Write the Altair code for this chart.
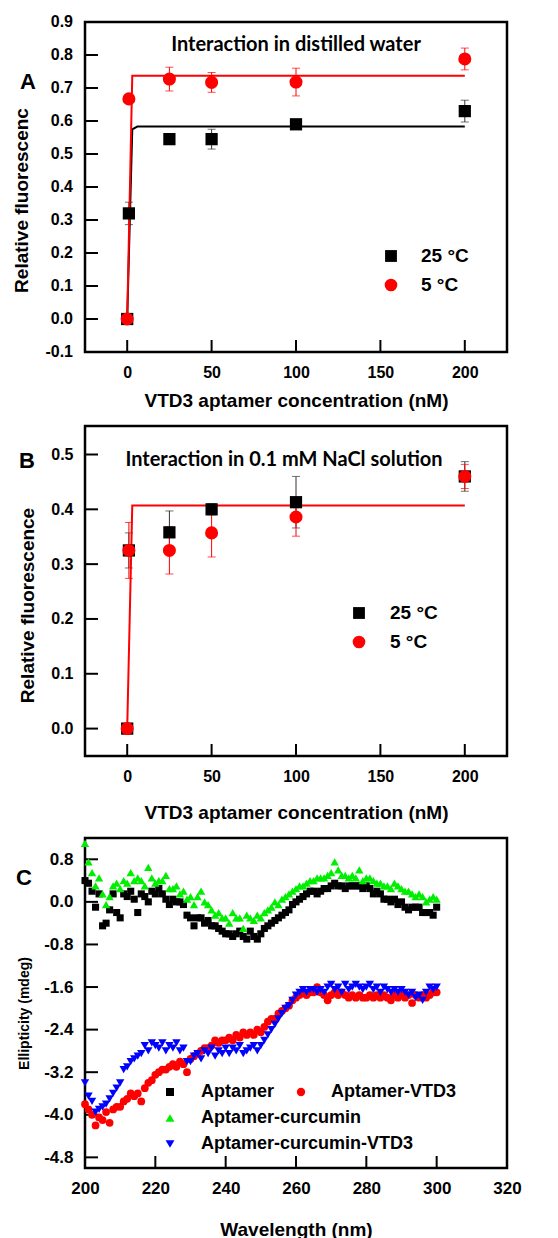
import altair as alt
import pandas as pd

# ---------------- Panel A / B data ----------------
conc = [0, 1, 25, 50, 100, 200]
a25 = [0.0, 0.32, 0.545, 0.545, 0.59, 0.63]
a25_err = [0.0, 0.034, 0.01, 0.03, 0.01, 0.033]
a5 = [0.0, 0.667, 0.727, 0.717, 0.718, 0.788]
a5_err = [0.0, 0.0, 0.036, 0.03, 0.042, 0.033]
fitA25_x = [0, 3, 6, 200]
fitA25_y = [0.0, 0.575, 0.583, 0.583]
fitA5_x = [0, 3, 200]
fitA5_y = [0.0, 0.737, 0.737]

b25 = [0.0, 0.325, 0.358, 0.40, 0.413, 0.46]
b25_err = [0.0, 0.032, 0.039, 0.01, 0.047, 0.027]
b5 = [0.0, 0.325, 0.325, 0.357, 0.386, 0.46]
b5_err = [0.0, 0.051, 0.043, 0.044, 0.035, 0.022]
fitB_x = [0, 3, 200]
fitB_y = [0.0, 0.407, 0.407]

xticks_AB = [0, 50, 100, 150, 200]
yticks_A = [-0.1, 0.0, 0.1, 0.2, 0.3, 0.4, 0.5, 0.6, 0.7, 0.8, 0.9]
ylabels_A = ["-0.1", "0.0", "0.1", "0.2", "0.3", "0.4", "0.5", "0.6", "0.7", "0.8", "0.9"]
yticks_B = [0.0, 0.1, 0.2, 0.3, 0.4, 0.5]
legend_AB = ["25 °C", "5 °C"]

# ---------------- Panel C data ----------------
wavelength = list(range(200, 301))
aptamer = [
    0.4, 0.35, 0.2, -0.1, 0.15, -0.45, -0.4, -0.15, 0.15, -0.2,
    -0.3, 0.15, 0.1, 0.2, 0.05, -0.2, 0.15, 0.1, 0.0, 0.2,
    0.15, 0.25, 0.15, 0.05, -0.05, 0.05, 0.0, 0.0, -0.05, -0.25,
    -0.3, -0.45, -0.3, -0.3, -0.4, -0.35, -0.45, -0.45, -0.5, -0.55,
    -0.6, -0.6, -0.65, -0.6, -0.55, -0.65, -0.7, -0.55, -0.65, -0.7,
    -0.6, -0.5, -0.45, -0.4, -0.35, -0.3, -0.25, -0.2, -0.15, -0.05,
    0.0, 0.05, 0.1, 0.15, 0.2, 0.2, 0.15, 0.2, 0.25, 0.25,
    0.3, 0.35, 0.3, 0.3, 0.25, 0.3, 0.3, 0.3, 0.3, 0.25,
    0.3, 0.25, 0.15, 0.2, 0.15, 0.05, 0.05, 0.0, 0.05, -0.05,
    0.0, -0.1, -0.15, -0.1, -0.1, -0.1, -0.2, -0.2, -0.2, -0.25, -0.1,
]
aptamer_vtd3 = [
    -3.8, -3.9, -4.0, -4.2, -4.05, -4.1, -3.95, -4.15, -3.9, -3.85,
    -3.85, -3.75, -3.7, -3.6, -3.65, -3.6, -3.75, -3.5, -3.4, -3.35,
    -3.25, -3.2, -3.15, -3.15, -3.1, -3.05, -3.1, -3.0, -3.05, -3.2,
    -2.95, -2.9, -2.85, -2.8, -2.75, -2.75, -2.7, -2.6, -2.65, -2.6,
    -2.6, -2.55, -2.6, -2.5, -2.55, -2.45, -2.5, -2.45, -2.5, -2.4,
    -2.45, -2.35, -2.25, -2.2, -2.2, -2.1, -2.05, -2.0, -1.95, -1.85,
    -1.8, -1.75, -1.7, -1.75, -1.7, -1.7, -1.6, -1.7, -1.75, -1.85,
    -1.75, -1.7, -1.75, -1.7, -1.75, -1.8, -1.75, -1.8, -1.75, -1.8,
    -1.8, -1.75, -1.8, -1.75, -1.8, -1.75, -1.8, -1.85, -1.75, -1.8,
    -1.75, -1.8, -1.75, -1.9, -1.75, -1.8, -1.75, -1.8, -1.75, -1.7, -1.7,
]
aptamer_curcumin = [
    1.1, 0.75, 0.55, 0.3, 0.45, 0.15, -0.05, 0.1, 0.3, 0.35,
    0.25, 0.4, 0.35, 0.55, 0.4, 0.45, 0.4, 0.3, 0.65, 0.45,
    0.35, 0.4, 0.4, 0.5, 0.25, 0.25, 0.3, 0.15, 0.2, 0.05,
    0.1, -0.05, 0.1, 0.2, 0.0, -0.05, -0.15, -0.25, -0.2, -0.3,
    -0.3, -0.4, -0.2, -0.3, -0.3, -0.5, -0.25, -0.3, -0.35, -0.25,
    -0.3, -0.2, -0.15, -0.1, 0.0, -0.05, 0.05, 0.1, 0.15, 0.2,
    0.25, 0.3, 0.3, 0.35, 0.4, 0.4, 0.45, 0.45, 0.45, 0.5,
    0.55, 0.75, 0.6, 0.5, 0.5, 0.45, 0.5, 0.45, 0.6, 0.4,
    0.45, 0.45, 0.4, 0.35, 0.35, 0.3, 0.3, 0.25, 0.35, 0.3,
    0.25, 0.2, 0.2, 0.15, 0.1, 0.15, 0.1, 0.0, 0.05, 0.1, 0.05,
]
aptamer_curcumin_vtd3 = [
    -3.4, -3.65, -3.75, -3.95, -3.9, -3.85, -3.8, -3.7, -3.6, -3.5,
    -3.4, -3.15, -3.1, -3.0, -2.95, -2.9, -2.85, -2.7, -2.8, -2.65,
    -2.7, -2.75, -2.65, -2.8, -2.7, -2.75, -2.65, -2.8, -2.75, -3.0,
    -3.0, -2.9, -2.85, -2.95, -2.8, -2.85, -2.75, -2.9, -2.8, -2.85,
    -2.75, -2.85, -2.75, -2.8, -2.7, -2.85, -2.8, -2.75, -2.7, -2.8,
    -2.7, -2.6, -2.5, -2.4, -2.3, -2.2, -2.1, -2.0, -1.95, -1.85,
    -1.75, -1.7, -1.65, -1.7, -1.65, -1.65, -1.7, -1.65, -1.7, -1.6,
    -1.55, -1.65, -1.6, -1.7, -1.55, -1.65, -1.6, -1.55, -1.6, -1.65,
    -1.6, -1.55, -1.65, -1.6, -1.7, -1.6, -1.65, -1.7, -1.65, -1.7,
    -1.65, -1.7, -1.75, -1.7, -1.8, -1.75, -1.85, -1.7, -1.6, -1.65, -1.6,
]
series_C = ["Aptamer", "Aptamer-VTD3", "Aptamer-curcumin", "Aptamer-curcumin-VTD3"]
xticks_C = [200, 220, 240, 260, 280, 300, 320]
yticks_C = [-4.8, -4.0, -3.2, -2.4, -1.6, -0.8, 0.0, 0.8]

W, H = 422, 330
FONT = "Liberation Sans"
ANNOT_FONT = "Lato"
RED = "#ff0000"
GREEN = "#00ee00"
BLUE = "#0000ff"
LABEL_EXPR = "replace(format(datum.value, '.1f'), '\u2212', '-')"


def one(text):
    return pd.DataFrame({"t": [text]})


def frame_ticks(xs, ys, xvals, yvals, ytitle, xtitle, ylabexpr, ytitleY, ytitlepad,
                xtitlepad, ytitlesize, lsize=16, ylabels=True):
    ytick = alt.Chart(pd.DataFrame({"y": yvals})).mark_rule(color="black", strokeWidth=2).encode(
        y=alt.Y("y:Q", scale=ys, axis=alt.Axis(
            values=yvals, labelExpr=ylabexpr, title=ytitle, ticks=False, domain=False,
            grid=False, labelPadding=12, titlePadding=ytitlepad, titleY=ytitleY,
            titleFontSize=ytitlesize, labelFontSize=lsize, labelFlush=False,
            labelOverlap=False, labels=ylabels)),
        x=alt.value(0), x2=alt.value(13))
    xtick = alt.Chart(pd.DataFrame({"x": xvals})).mark_rule(color="black", strokeWidth=2).encode(
        x=alt.X("x:Q", scale=xs, axis=alt.Axis(
            values=xvals, format="d", title=xtitle, ticks=False, domain=False, grid=False,
            labelPadding=12, titlePadding=xtitlepad, titleFontSize=19, labelFontSize=lsize,
            labelFlush=False, labelOverlap=False)),
        y=alt.value(H), y2=alt.value(H - 12))
    return [ytick, xtick]


def manual_ylabels(vals, labels, ys, size=16):
    d = pd.DataFrame({"y": vals, "lab": labels})
    return alt.Chart(d).mark_text(font=FONT, fontWeight="bold", fontSize=size, align="right",
                                  baseline="middle", color="black").encode(
        y=alt.Y("y:Q", scale=ys), x=alt.value(-12), text="lab:N")


def err_layers(x, y, e, xs, ys, color):
    d = pd.DataFrame({"x": x, "y": y, "e": e})
    d = d[d["e"] > 0].copy()
    d["lo"] = d["y"] - d["e"]
    d["hi"] = d["y"] + d["e"]
    base = alt.Chart(d)
    rule = base.mark_rule(color=color, strokeWidth=1).encode(
        x=alt.X("x:Q", scale=xs), y=alt.Y("lo:Q", scale=ys), y2="hi:Q")
    cap1 = base.mark_tick(color=color, orient="horizontal", size=8, thickness=1).encode(
        x=alt.X("x:Q", scale=xs), y=alt.Y("lo:Q", scale=ys))
    cap2 = base.mark_tick(color=color, orient="horizontal", size=8, thickness=1).encode(
        x=alt.X("x:Q", scale=xs), y=alt.Y("hi:Q", scale=ys))
    return [rule, cap1, cap2]


def line_layer(x, y, xs, ys, color):
    return alt.Chart(pd.DataFrame({"x": x, "y": y})).mark_line(color=color, strokeWidth=2).encode(
        x=alt.X("x:Q", scale=xs), y=alt.Y("y:Q", scale=ys))


def pts(x, y, xs, ys, shape, color, size):
    return alt.Chart(pd.DataFrame({"x": x, "y": y})).mark_point(
        shape=shape, filled=True, color=color, size=size, opacity=1).encode(
        x=alt.X("x:Q", scale=xs), y=alt.Y("y:Q", scale=ys))


def sym(px, py, shape, color, size):
    return alt.Chart(one("")).mark_point(shape=shape, filled=True, color=color, size=size,
                                         opacity=1).encode(x=alt.value(px), y=alt.value(py))


def txt(px, py, text, size, font=FONT, align="left"):
    return alt.Chart(one(text)).mark_text(
        font=font, fontWeight="bold", fontSize=size, align=align, baseline="middle",
        color="black").encode(x=alt.value(px), y=alt.value(py), text="t:N")


# ---------------- Panel A ----------------
xsA = alt.Scale(domain=[-25, 225], nice=False, zero=False)
ysA = alt.Scale(domain=[-0.1, 0.9], nice=False, zero=False)
layersA = frame_ticks(xsA, ysA, xticks_AB, yticks_A, "Relative fluorescenc",
                      "VTD3 aptamer concentration (nM)", LABEL_EXPR, 178, 54, 11, 19,
                      ylabels=False)
layersA += [manual_ylabels(yticks_A, ylabels_A, ysA)]
layersA += err_layers(conc, a25, a25_err, xsA, ysA, "#333333")
layersA += err_layers(conc, a5, a5_err, xsA, ysA, RED)
layersA += [line_layer(fitA25_x, fitA25_y, xsA, ysA, "black"),
            line_layer(fitA5_x, fitA5_y, xsA, ysA, RED)]
layersA += [pts(conc, a25, xsA, ysA, "square", "black", 150),
            pts(conc, a5, xsA, ysA, "circle", RED, 170)]
layersA += [sym(306, 234, "square", "black", 140), sym(306, 263, "circle", RED, 160),
            txt(336, 234, legend_AB[0], 19), txt(336, 263, legend_AB[1], 19),
            txt(211, 23, "Interaction in distilled water", 20, ANNOT_FONT, "center"),
            txt(-57, 60, "A", 22, FONT, "center")]
chartA = alt.layer(*layersA).properties(width=W, height=H)

# ---------------- Panel B ----------------
xsB = alt.Scale(domain=[-25, 225], nice=False, zero=False)
ysB = alt.Scale(domain=[-0.05, 0.552], nice=False, zero=False)
layersB = frame_ticks(xsB, ysB, xticks_AB, yticks_B, "Relative fluorescence",
                      "VTD3 aptamer concentration (nM)", LABEL_EXPR, 179, 13, 19, 19)
layersB += err_layers(conc, b25, b25_err, xsB, ysB, "#333333")
layersB += err_layers(conc, b5, b5_err, xsB, ysB, RED)
layersB += [line_layer(fitB_x, fitB_y, xsB, ysB, RED)]
layersB += [pts(conc, b25, xsB, ysB, "square", "black", 150),
            pts(conc, b5, xsB, ysB, "circle", RED, 170)]
layersB += [sym(274, 187, "square", "black", 140), sym(274, 216, "circle", RED, 160),
            txt(305, 187, legend_AB[0], 19), txt(305, 216, legend_AB[1], 19),
            txt(199, 34, "Interaction in 0.1 mM NaCl solution", 20, ANNOT_FONT, "center"),
            txt(-58, 35, "B", 22, FONT, "center")]
chartB = alt.layer(*layersB).properties(width=W, height=H)

# ---------------- Panel C ----------------
xsC = alt.Scale(domain=[200, 320], nice=False, zero=False)
ysC = alt.Scale(domain=[-5.0, 1.2], nice=False, zero=False)
layersC = frame_ticks(xsC, ysC, xticks_C, yticks_C, "Ellipticity (mdeg)",
                      "Wavelength (nm)", LABEL_EXPR, 175, 12, 24, 14, lsize=17)
layersC += [pts(wavelength, aptamer, xsC, ysC, "square", "black", 50),
            pts(wavelength, aptamer_curcumin, xsC, ysC, "triangle-up", GREEN, 70),
            pts(wavelength, aptamer_vtd3, xsC, ysC, "circle", RED, 60),
            pts(wavelength, aptamer_curcumin_vtd3, xsC, ysC, "triangle-down", BLUE, 70)]
layersC += [sym(85, 254, "square", "black", 64), txt(116, 254, series_C[0], 18),
            sym(216, 254, "circle", RED, 70), txt(246, 254, series_C[1], 18),
            sym(85, 280, "triangle-up", GREEN, 80), txt(116, 280, series_C[2], 18),
            sym(85, 306, "triangle-down", BLUE, 80), txt(116, 306, series_C[3], 18),
            txt(-61, 40, "C", 22, FONT, "center")]
chartC = alt.layer(*layersC).properties(width=W, height=H)

chart = alt.vconcat(chartA, chartB, chartC, spacing=12).properties(
    padding={"left": 10, "top": 12, "right": 5, "bottom": 5}
).configure_view(stroke="black", strokeWidth=2.5).configure_axis(
    labelFont=FONT, labelFontWeight="bold", labelColor="black",
    titleFont=FONT, titleFontWeight="bold", titleColor="black", labelOverlap=False)

chart.save("out.html", embed_options={"renderer": "svg", "actions": False})
